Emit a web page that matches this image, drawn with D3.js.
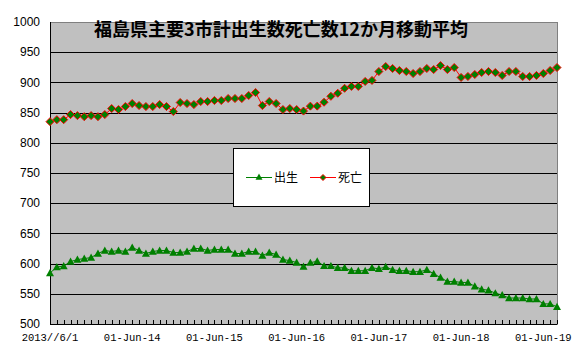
<!DOCTYPE html>
<html>
<head>
<meta charset="utf-8">
<script src="https://cdn.jsdelivr.net/npm/d3@7"></script>
<style>
  body { margin: 0; background: #fff; }
  svg { display: block; }
</style>
</head>
<body>
<div class="chart"></div>
<script>
// monthly, 2013-06 .. 2019-08 (12-month moving averages)
var births = [584.4, 594.4, 596, 603.3, 606.7, 608.3, 610, 616.7, 621.7, 620, 621.7, 620,
  626.7, 621.7, 616.7, 620, 621.7, 621.7, 618.3, 618.3, 620, 625, 625, 621.7,
  623.3, 623.3, 623.3, 616.7, 616.7, 620, 620, 613.3, 618.3, 615, 606.7, 605,
  601.7, 595, 601.6, 603.8, 596.2, 596.2, 593, 593, 588.2, 588.2, 588.2, 593,
  591.4, 594.6, 589.8, 588.2, 588.2, 586.6, 586.6, 589.8, 583.3, 576.9, 570.4, 570.4,
  568.8, 568.8, 562.4, 557.5, 555.9, 551.1, 547.9, 543, 543, 543, 541.4, 541.4,
  533.3, 533.3, 528.5];

var deaths = [835, 838.3, 838.3, 846.7, 845, 843.3, 845, 843.3, 846.7, 856.7, 855, 860,
  865, 861.7, 860, 860, 863.3, 860, 851.7, 866.7, 865, 863.3, 868.3, 868.3,
  870, 870, 873.3, 873.3, 873.3, 878.3, 883.3, 861.7, 868.3, 865, 855, 856.7,
  855, 852.5, 860.7, 860.7, 867.2, 877, 882, 890.2, 893.4, 893.4, 901.6, 903.3,
  918, 926.2, 923, 919.7, 918, 914.7, 918, 923, 921.3, 927.8, 921.3, 924.6,
  908.2, 909.8, 913.1, 916.4, 918, 916.4, 911.5, 918, 918, 909.8, 909.8, 911.5,
  914.7, 919.7, 924.6];

var xLabels = ['2013//6/1', '01-Jun-14', '01-Jun-15', '01-Jun-16', '01-Jun-17', '01-Jun-18', '01-Jun-19'];
var xLabelIdx = [0, 12, 24, 36, 48, 60, 72];
var yTicks = [500, 550, 600, 650, 700, 750, 800, 850, 900, 950, 1000];
var seriesNames = ['出生', '死亡'];
var title = '福島県主要3市計出生数死亡数12か月移動平均';

var w = 577, h = 352;
var plotL = 50, plotR = 557, plotT = 22, plotB = 324;

var svg = d3.select('.chart').append('svg').attr('width', w).attr('height', h);

var x = d3.scaleLinear().domain([0, births.length - 1]).range([plotL, plotR]);
var y = d3.scaleLinear().domain([500, 1000]).range([plotB, plotT]);

// plot area
svg.append('rect')
  .attr('x', plotL + 0.5).attr('y', plotT + 0.5)
  .attr('width', plotR - plotL).attr('height', plotB - plotT)
  .attr('fill', '#c0c0c0')
  .attr('stroke', '#808080');

// grid lines
svg.append('g').selectAll('line')
  .data(yTicks.slice(1, -1))
  .enter().append('line')
  .attr('x1', plotL).attr('x2', plotR)
  .attr('y1', function (d) { return Math.round(y(d)) + 0.5; })
  .attr('y2', function (d) { return Math.round(y(d)) + 0.5; })
  .attr('stroke', '#000');

// axes lines
svg.append('line').attr('x1', plotL + 0.5).attr('x2', plotL + 0.5)
  .attr('y1', plotT).attr('y2', plotB).attr('stroke', '#000');
svg.append('line').attr('x1', plotL).attr('x2', plotR)
  .attr('y1', plotB + 0.5).attr('y2', plotB + 0.5).attr('stroke', '#000');

// month tick marks (inside)
svg.append('g').selectAll('line')
  .data(d3.range(1, births.length))
  .enter().append('line')
  .attr('x1', function (d) { return Math.round(x(d)) + 0.5; })
  .attr('x2', function (d) { return Math.round(x(d)) + 0.5; })
  .attr('y1', plotB - 4).attr('y2', plotB)
  .attr('stroke', '#000');

// y labels
svg.append('g').selectAll('text')
  .data(yTicks)
  .enter().append('text')
  .attr('x', 40)
  .attr('y', function (d) { return y(d); })
  .attr('dy', '0.35em')
  .attr('text-anchor', 'end')
  .attr('font-family', '"Liberation Sans", Arial, sans-serif')
  .attr('font-size', 12)
  .text(function (d) { return d; });

// x labels
svg.append('g').selectAll('text')
  .data(xLabels)
  .enter().append('text')
  .attr('x', function (d, i) { return x(xLabelIdx[i]); })
  .attr('y', 341)
  .attr('text-anchor', 'middle')
  .attr('font-family', '"Liberation Mono", "DejaVu Sans Mono", monospace')
  .attr('font-size', 10.5)
  .text(function (d) { return d; });

// lines
var line = d3.line()
  .x(function (d, i) { return x(i); })
  .y(function (d) { return y(d); });

svg.append('path').datum(deaths)
  .attr('d', line).attr('fill', 'none').attr('stroke', '#ff0000').attr('stroke-width', 1);
svg.append('path').datum(births)
  .attr('d', line).attr('fill', 'none').attr('stroke', '#008000').attr('stroke-width', 1);

var tri = function (s) { return 'M0,' + (-s) + 'L' + s + ',' + (s * 0.8) + 'L' + (-s) + ',' + (s * 0.8) + 'Z'; };

svg.append('g').selectAll('path')
  .data(deaths)
  .enter().append('path')
  .attr('transform', function (d, i) { return 'translate(' + x(i) + ',' + y(d) + ')'; })
  .attr('d', 'M0,-4L4,0L0,4L-4,0Z')
  .attr('fill', '#008000')
  .attr('stroke', '#ff0000')
  .attr('stroke-width', 1);

svg.append('g').selectAll('path')
  .data(births)
  .enter().append('path')
  .attr('transform', function (d, i) { return 'translate(' + x(i) + ',' + y(d) + ')'; })
  .attr('d', tri(4))
  .attr('fill', '#008000');

// title
svg.append('text')
  .attr('x', 281).attr('y', 36)
  .attr('text-anchor', 'middle')
  .attr('font-family', '"Noto Sans CJK JP", sans-serif')
  .attr('font-weight', 'bold')
  .attr('font-size', 18)
  .attr('fill', '#000')
  .text(title);

// legend
var lg = svg.append('g');
lg.append('rect')
  .attr('x', 233.5).attr('y', 148.5).attr('width', 136).attr('height', 58)
  .attr('fill', '#fff').attr('stroke', '#000');

var legendX = [246, 310];
var legendColor = ['#008000', '#ff0000'];
seriesNames.forEach(function (name, i) {
  lg.append('line')
    .attr('x1', legendX[i]).attr('x2', legendX[i] + 26)
    .attr('y1', 177.5).attr('y2', 177.5)
    .attr('stroke', legendColor[i]);
  if (i === 0) {
    lg.append('path').attr('transform', 'translate(' + (legendX[i] + 13) + ',177)')
      .attr('d', tri(3.5)).attr('fill', '#008000');
  } else {
    lg.append('path').attr('transform', 'translate(' + (legendX[i] + 13) + ',177.5)')
      .attr('d', 'M0,-3L3,0L0,3L-3,0Z').attr('fill', '#008000').attr('stroke', '#ff0000');
  }
  lg.append('text')
    .attr('x', legendX[i] + 28).attr('y', 182)
    .attr('font-family', '"Noto Sans CJK JP", sans-serif')
    .attr('font-size', 12)
    .text(name);
});
</script>
</body>
</html>
